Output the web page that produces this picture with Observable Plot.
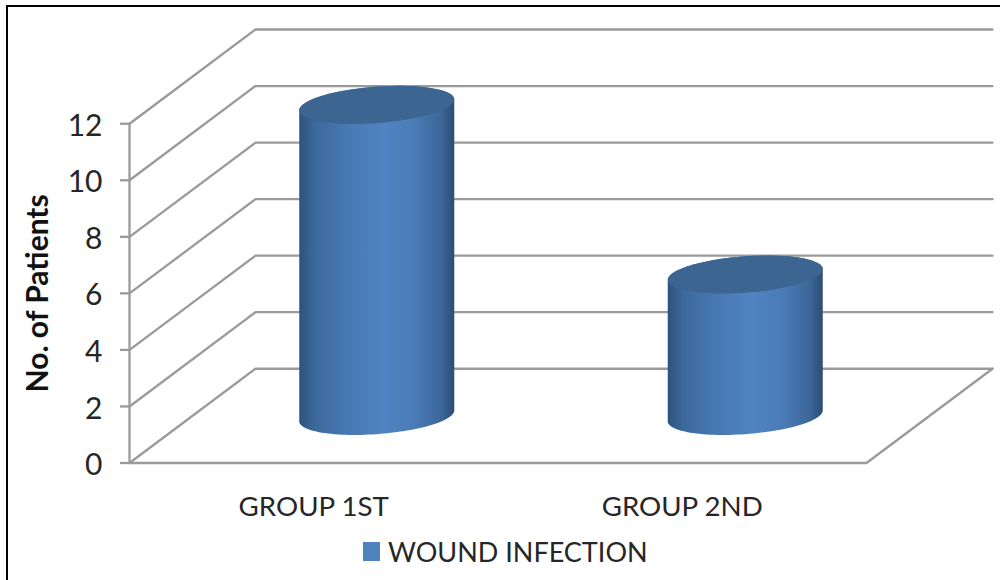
<!DOCTYPE html>
<html>
<head>
<meta charset="utf-8">
<script src="https://cdn.jsdelivr.net/npm/d3@7"></script>
<script src="https://cdn.jsdelivr.net/npm/@observablehq/plot@0.6"></script>
<style>
  html, body { margin: 0; padding: 0; background: #fff; }
  #page { position: relative; width: 1000px; height: 580px; overflow: hidden; font-family: Lato, "Open Sans", sans-serif; }
  #page::before { content: ""; position: absolute; left: 6px; top: 5px; right: 0; bottom: 0; border-left: 2px solid #000; border-top: 2px solid #000; }
  #chart { position: absolute; left: 0; top: 0; }
  #chart svg { display: block; background: transparent; }
  #legend { position: absolute; left: 363px; top: 536px; display: flex; align-items: center; height: 30px; color: #262626; font-size: 27px; letter-spacing: 0; }
  #legend i { display: inline-block; width: 17px; height: 19px; background: #4f81bd; margin-right: 8px; }
</style>
</head>
<body>
<div id="page">
  <div id="chart"></div>
  <div id="legend"><i></i><span id="legend-label"></span></div>
</div>
<script>
const categories = ["GROUP 1ST", "GROUP 2ND"];
const woundInfection = [11, 5];
const yTicks = [0, 2, 4, 6, 8, 10, 12];
const seriesName = "WOUND INFECTION";
const yLabel = "No. of Patients";

// Oblique 3D: depth of the chart floor expressed in the scale's own data units
const depthX = 0.342, depthY = 3.333;
// Cylinder footprint in data units
const radiusX = 0.2016, skewX = 0.06, radiusY = 0.674;

const project = (i, level, t) => ({
  id: i,
  x: i + 0.5 + depthX / 2 + radiusX * Math.cos(t) + skewX * Math.sin(t),
  y: level + depthY / 2 + radiusY * Math.sin(t)
});
const t0 = Math.atan2(skewX, radiusX);
const steps = d3.range(0, 61).map(k => k / 60);

const bodies = woundInfection.flatMap((v, i) => [
  ...steps.map(s => project(i, 0, t0 - Math.PI * s)),
  ...steps.map(s => project(i, v, t0 - Math.PI - Math.PI * s))
]);
const caps = woundInfection.flatMap((v, i) =>
  steps.map(s => project(i, v, t0 - 2 * Math.PI * s))
);

const gridLines = yTicks.flatMap(t => [
  { t, x: 0, y: t },
  { t, x: depthX, y: t + depthY },
  { t, x: categories.length + depthX, y: t + depthY }
]);
const floorEdge = [
  { x: 0, y: 0 },
  { x: categories.length, y: 0 },
  { x: categories.length + depthX, y: depthY }
];

const gridColor = "#9a9a9a";

const defs = () => {
  const d = d3.create("svg:defs");
  const g = d.append("linearGradient").attr("id", "cyl").attr("x1", 0).attr("x2", 1).attr("y1", 0).attr("y2", 0);
  [[0, "#2f527c"], [0.1, "#3c689c"], [0.3, "#4878b2"], [0.55, "#5083c2"], [0.75, "#4a7bb5"], [0.92, "#3b6697"], [1, "#2c4c74"]]
    .forEach(([o, c]) => g.append("stop").attr("offset", o).attr("stop-color", c));
  return d.node();
};

const plot = Plot.plot({
  width: 1000,
  height: 520,
  marginLeft: 129,
  marginRight: 8,
  marginTop: 29,
  marginBottom: 57.5,
  style: { fontFamily: "Lato, 'Open Sans', sans-serif", background: "transparent", overflow: "visible" },
  x: { type: "linear", domain: [0, categories.length + depthX], axis: null },
  y: { type: "linear", domain: [0, 12 + depthY], axis: null },
  marks: [
    defs,
    Plot.line(gridLines, { x: "x", y: "y", z: "t", stroke: gridColor, strokeWidth: 2.3, curve: "linear" }),
    Plot.line(floorEdge, { x: "x", y: "y", stroke: gridColor, strokeWidth: 2.3, curve: "linear" }),
    Plot.ruleX([0], { y1: 0, y2: 12, stroke: gridColor, strokeWidth: 2.3 }),
    Plot.axisY({
      ticks: yTicks, tickSize: 9, text: null, label: null, anchor: "left",
      stroke: gridColor, strokeWidth: 2.3, strokeOpacity: 1
    }),
    Plot.axisY({
      ticks: yTicks, tickSize: 0, tickPadding: 27, dy: 2.5, label: null, anchor: "left",
      fill: "#262626", fontSize: 30
    }),
    Plot.axisX({
      ticks: categories.map((c, i) => i + 0.5), tickFormat: d => categories[d - 0.5],
      tickSize: 0, tickPadding: 33, label: null, anchor: "bottom",
      fill: "#262626", fontSize: 27.7
    }),
    Plot.text([yLabel], {
      text: d => d, x: 0, y: 6, dx: -91, rotate: -90, fontWeight: "bold", fontSize: 30, fill: "#111", lineAnchor: "middle"
    }),
    Plot.line(bodies, { x: "x", y: "y", z: "id", fill: "url(#cyl)", stroke: "none", curve: "linear" }),
    Plot.line(caps, { x: "x", y: "y", z: "id", fill: "#3d6592", stroke: "none", curve: "linear" })
  ]
});

document.getElementById("chart").appendChild(plot);
document.getElementById("legend-label").textContent = seriesName;
</script>
</body>
</html>
